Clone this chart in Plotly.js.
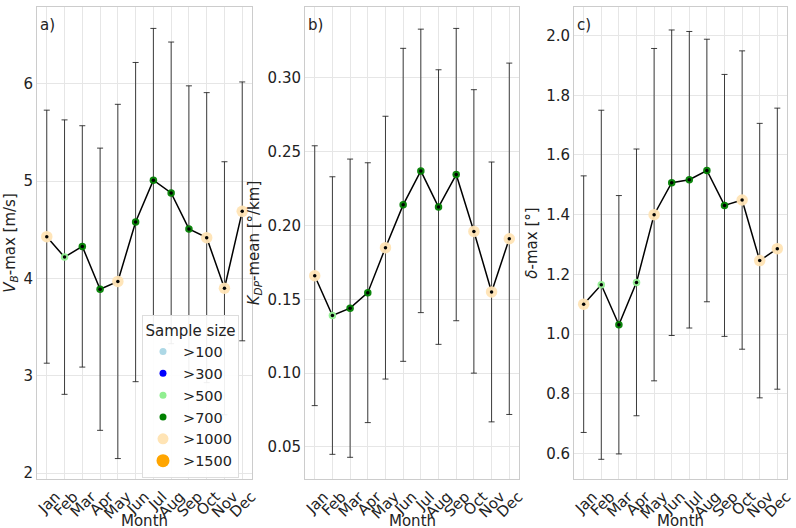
<!DOCTYPE html>
<html>
<head>
<meta charset="utf-8">
<script src="https://cdn.plot.ly/plotly-3.0.1.min.js"></script>
<style>
  html, body { margin: 0; padding: 0; background: #fff; }
  #chart { width: 796px; height: 528px; }
</style>
</head>
<body>
<div id="chart"></div>
<script>
// Monthly statistics of the three radar variables (mean ± standard deviation)
const months = ['Jan', 'Feb', 'Mar', 'Apr', 'May', 'Jun', 'Jul', 'Aug', 'Sep', 'Oct', 'Nov', 'Dec'];

const vbMax    = [4.43, 4.22, 4.33, 3.89, 3.97, 4.58, 5.01, 4.88, 4.51, 4.42, 3.90, 4.69];
const vbStd    = [1.30, 1.41, 1.24, 1.45, 1.82, 1.64, 1.56, 1.55, 1.47, 1.49, 1.30, 1.33];

const kdpMean  = [0.166, 0.139, 0.144, 0.1545, 0.185, 0.214, 0.237, 0.2125, 0.2345, 0.196, 0.155, 0.191];
const kdpStd   = [0.088, 0.094, 0.101, 0.088, 0.089, 0.106, 0.096, 0.093, 0.099, 0.096, 0.088, 0.119];

const deltaMax = [1.100, 1.165, 1.031, 1.173, 1.400, 1.507, 1.517, 1.548, 1.431, 1.449, 1.246, 1.286];
const deltaStd = [0.430, 0.585, 0.433, 0.447, 0.557, 0.512, 0.497, 0.440, 0.439, 0.500, 0.460, 0.471];

// Sample-size class of every month, per variable
const sampleA = ['>1000', '>500', '>700', '>700', '>1000', '>700', '>700', '>700', '>700', '>1000', '>1000', '>1000'];
const sampleB = ['>1000', '>500', '>700', '>700', '>1000', '>700', '>700', '>700', '>700', '>1000', '>1000', '>1000'];
const sampleC = ['>1000', '>500', '>700', '>500', '>1000', '>700', '>700', '>700', '>700', '>1000', '>1000', '>1000'];

const sampleClasses = ['>100', '>300', '>500', '>700', '>1000', '>1500'];

// Marker style for each sample-size class
const classStyle = {
  '>100':  { color: 'lightblue',  size: 7 },
  '>300':  { color: 'blue',       size: 7 },
  '>500':  { color: 'lightgreen', size: 7 },
  '>700':  { color: 'green',      size: 7 },
  '>1000': { color: 'moccasin',   size: 11 },
  '>1500': { color: 'orange',     size: 13 }
};

const FONT = 'DejaVu Sans, sans-serif';
const traces = [];

function addPanel(values, std, classes, xa, ya) {
  // mean line with ±1 std error bars
  traces.push({
    x: months, y: values, xaxis: xa, yaxis: ya, type: 'scatter', mode: 'lines',
    line: { color: 'black', width: 1.5 },
    error_y: { type: 'data', array: std, visible: true, color: 'rgba(30,30,30,0.85)', thickness: 1, width: 3 },
    showlegend: false, hoverinfo: 'skip'
  });
  // coloured markers by sample size
  traces.push({
    x: months, y: values, xaxis: xa, yaxis: ya, type: 'scatter', mode: 'markers',
    marker: {
      color: classes.map(c => classStyle[c].color),
      size: classes.map(c => classStyle[c].size + 0.5),
      opacity: 0.95, line: { width: 0 }
    },
    showlegend: false
  });
  // small black mean dots on top
  traces.push({
    x: months, y: values, xaxis: xa, yaxis: ya, type: 'scatter', mode: 'markers',
    marker: { color: 'black', size: 3.5 },
    showlegend: false, hoverinfo: 'skip'
  });
}

addPanel(vbMax, vbStd, sampleA, 'x', 'y');
addPanel(kdpMean, kdpStd, sampleB, 'x2', 'y2');
addPanel(deltaMax, deltaStd, sampleC, 'x3', 'y3');

// legend entries for the sample-size classes
sampleClasses.forEach(c => {
  traces.push({
    x: [null], y: [null], xaxis: 'x', yaxis: 'y', type: 'scatter', mode: 'markers',
    name: c, marker: { color: classStyle[c].color, size: classStyle[c].size }, showlegend: true
  });
});

const W = 796, H = 528;
const yDom = [(H - 479) / H, (H - 7) / H];

function xAxis(left, right) {
  return {
    domain: [left / W, right / W],
    type: 'category',
    range: [-0.55, 11.55],
    tickmode: 'array', tickvals: months, ticktext: months,
    tickangle: -45,
    ticklabelshift: 9,
    ticklabelstandoff: 2,
    tickfont: { family: FONT, size: 15, color: '#222' },
    showgrid: true, gridcolor: '#e6e6e6', gridwidth: 1,
    showline: true, linecolor: '#cccccc', linewidth: 1, mirror: true,
    ticks: '', zeroline: false, automargin: false
  };
}

function yAxis(anchor, range, dtick, fmt, title) {
  return {
    domain: yDom, anchor: anchor,
    range: range, dtick: dtick, tickformat: fmt,
    tickfont: { family: FONT, size: 15, color: '#222' },
    showgrid: true, gridcolor: '#e6e6e6', gridwidth: 1,
    showline: true, linecolor: '#cccccc', linewidth: 1, mirror: true,
    ticks: '', zeroline: false, automargin: false,
    title: { text: title, font: { family: FONT, size: 15, color: '#222' }, standoff: 4 }
  };
}

const labelFont = { family: FONT, size: 15, color: '#222' };

function panelLabel(text, ax) {
  return { text: text, xref: ax.x + ' domain', yref: ax.y + ' domain', x: 0.003, y: 0.985,
           xanchor: 'left', yanchor: 'top', showarrow: false, font: labelFont };
}

function monthTitle(ax) {
  return { text: 'Month', xref: ax + ' domain', yref: 'paper', x: 0.5, y: (H - 520.5) / H,
           xanchor: 'center', yanchor: 'middle', showarrow: false, font: labelFont };
}

const layout = {
  width: W, height: H,
  margin: { l: 0, r: 0, t: 0, b: 0 },
  paper_bgcolor: 'white', plot_bgcolor: 'white',
  font: labelFont,
  xaxis:  Object.assign(xAxis(37, 252),   { anchor: 'y' }),
  xaxis2: Object.assign(xAxis(305, 519),  { anchor: 'y2' }),
  xaxis3: Object.assign(xAxis(574, 787),  { anchor: 'y3' }),
  yaxis:  yAxis('x',  [1.94, 6.79],    1,    'd',   '<i>V</i><sub><i>B</i></sub>-max [m/s]'),
  yaxis2: yAxis('x2', [0.0283, 0.348], 0.05, '.2f', '<i>K</i><sub><i>DP</i></sub>-mean [°/km]'),
  yaxis3: yAxis('x3', [0.514, 2.096],  0.2,  '.1f', '<i>δ</i>-max [°]'),
  showlegend: true,
  legend: {
    x: 142 / W, xanchor: 'left',
    y: (H - 315) / H, yanchor: 'top',
    bgcolor: 'rgba(255,255,255,0.92)', bordercolor: '#dddddd', borderwidth: 1,
    font: { family: FONT, size: 14.5, color: '#222' },
    title: { text: 'Sample size', side: 'top center', font: { family: FONT, size: 15, color: '#222' } },
    itemsizing: 'trace'
  },
  annotations: [
    panelLabel('a)', { x: 'x', y: 'y' }),
    panelLabel('b)', { x: 'x2', y: 'y2' }),
    panelLabel('c)', { x: 'x3', y: 'y3' }),
    monthTitle('x'), monthTitle('x2'), monthTitle('x3')
  ]
};

Plotly.newPlot('chart', traces, layout, { displayModeBar: false, staticPlot: true });
</script>
</body>
</html>
